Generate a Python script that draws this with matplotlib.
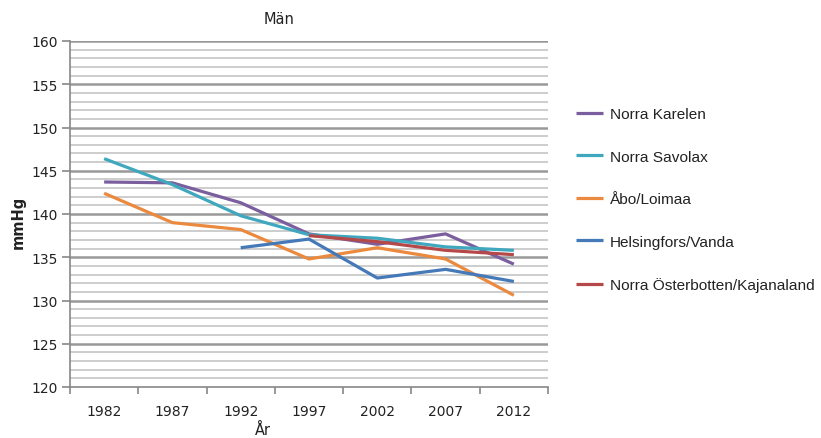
import matplotlib
matplotlib.use("Agg")
import matplotlib.pyplot as plt
import numpy as np

years = ["1982", "1987", "1992", "1997", "2002", "2007", "2012"]
series_names = ["Norra Karelen", "Norra Savolax", "Åbo/Loimaa",
                "Helsingfors/Vanda", "Norra Österbotten/Kajanaland"]
norra_karelen = [143.7, 143.6, 141.3, 137.7, 136.5, 137.7, 134.2]
norra_savolax = [146.4, 143.4, 139.8, 137.6, 137.2, 136.2, 135.8]
abo_loimaa = [142.4, 139.0, 138.2, 134.8, 136.1, 134.8, 130.6]
helsingfors_vanda = [None, None, 136.1, 137.1, 132.6, 133.6, 132.2]
norra_osterbotten = [None, None, None, 137.5, 136.8, 135.8, 135.3]
colors = ["#7A5E9E", "#3FA8BE", "#EB8A3F", "#4579B8", "#B5494A"]

all_series = [norra_karelen, norra_savolax, abo_loimaa, helsingfors_vanda, norra_osterbotten]

fig = plt.figure(figsize=(8.21, 4.39), dpi=100)
W, H = 821, 439
L, R, T, B = 70, 548, 42, 388
ax = fig.add_axes([L / W, 1 - B / H, (R - L) / W, (B - T) / H])

x = np.arange(len(years))
ax.set_xlim(-0.5, len(years) - 0.5)
ax.set_ylim(120, 160)

# gridlines
for v in range(121, 160):
    if v % 5 != 0:
        ax.axhline(v, color="#C9C9C9", lw=1.3, zorder=1)
for v in range(125, 161, 5):
    ax.axhline(v, color="#999999", lw=1.8, zorder=1.5)

for name, vals, c in zip(series_names, all_series, colors):
    arr = np.array([np.nan if v is None else v for v in vals], dtype=float)
    ax.plot(x, arr, color=c, lw=2.3, label=name, solid_capstyle="butt", zorder=3)

ax.set_yticks(range(120, 161, 5))
ax.set_yticklabels([str(v) for v in range(120, 161, 5)])
ax.set_xticks(np.arange(-0.5, len(years), 1.0))
ax.set_xticklabels([])
ax.set_xticks(x, minor=True)
ax.set_xticklabels(years, minor=True)
ax.tick_params(axis="x", which="minor", length=0, pad=12, labelsize=10, labelcolor="#222222")
ax.tick_params(axis="x", which="major", length=5, color="#888888", width=1.2)
ax.tick_params(axis="y", length=6, color="#888888", width=1.2, labelsize=10, labelcolor="#222222", pad=3)

for s in ["top", "right"]:
    ax.spines[s].set_visible(False)
ax.spines["left"].set_color("#888888")
ax.spines["left"].set_linewidth(1.2)
ax.spines["bottom"].set_color("#888888")
ax.spines["bottom"].set_linewidth(1.2)

fig.text(279 / W, 1 - 19 / H, "Män", ha="center", va="center", fontsize=10.5, color="#222222")
fig.text(263 / W, 1 - 430 / H, "År", ha="center", va="center", fontsize=10.5, color="#222222")
fig.text(18 / W, 1 - 222 / H, "mmHg", ha="center", va="center", rotation=90,
         fontsize=10.5, fontweight="bold", color="#222222")

# legend
handles, labels = ax.get_legend_handles_labels()
leg = fig.legend(handles, labels, loc="upper left", bbox_to_anchor=(570 / W, 1 - 102 / H),
                 frameon=False, prop={"family": "Liberation Sans", "size": 11.1},
                 handlelength=1.75, handletextpad=0.45, labelspacing=1.85, borderaxespad=0)
for t in leg.get_texts():
    t.set_color("#222222")

fig.savefig("out.png", dpi=100)
